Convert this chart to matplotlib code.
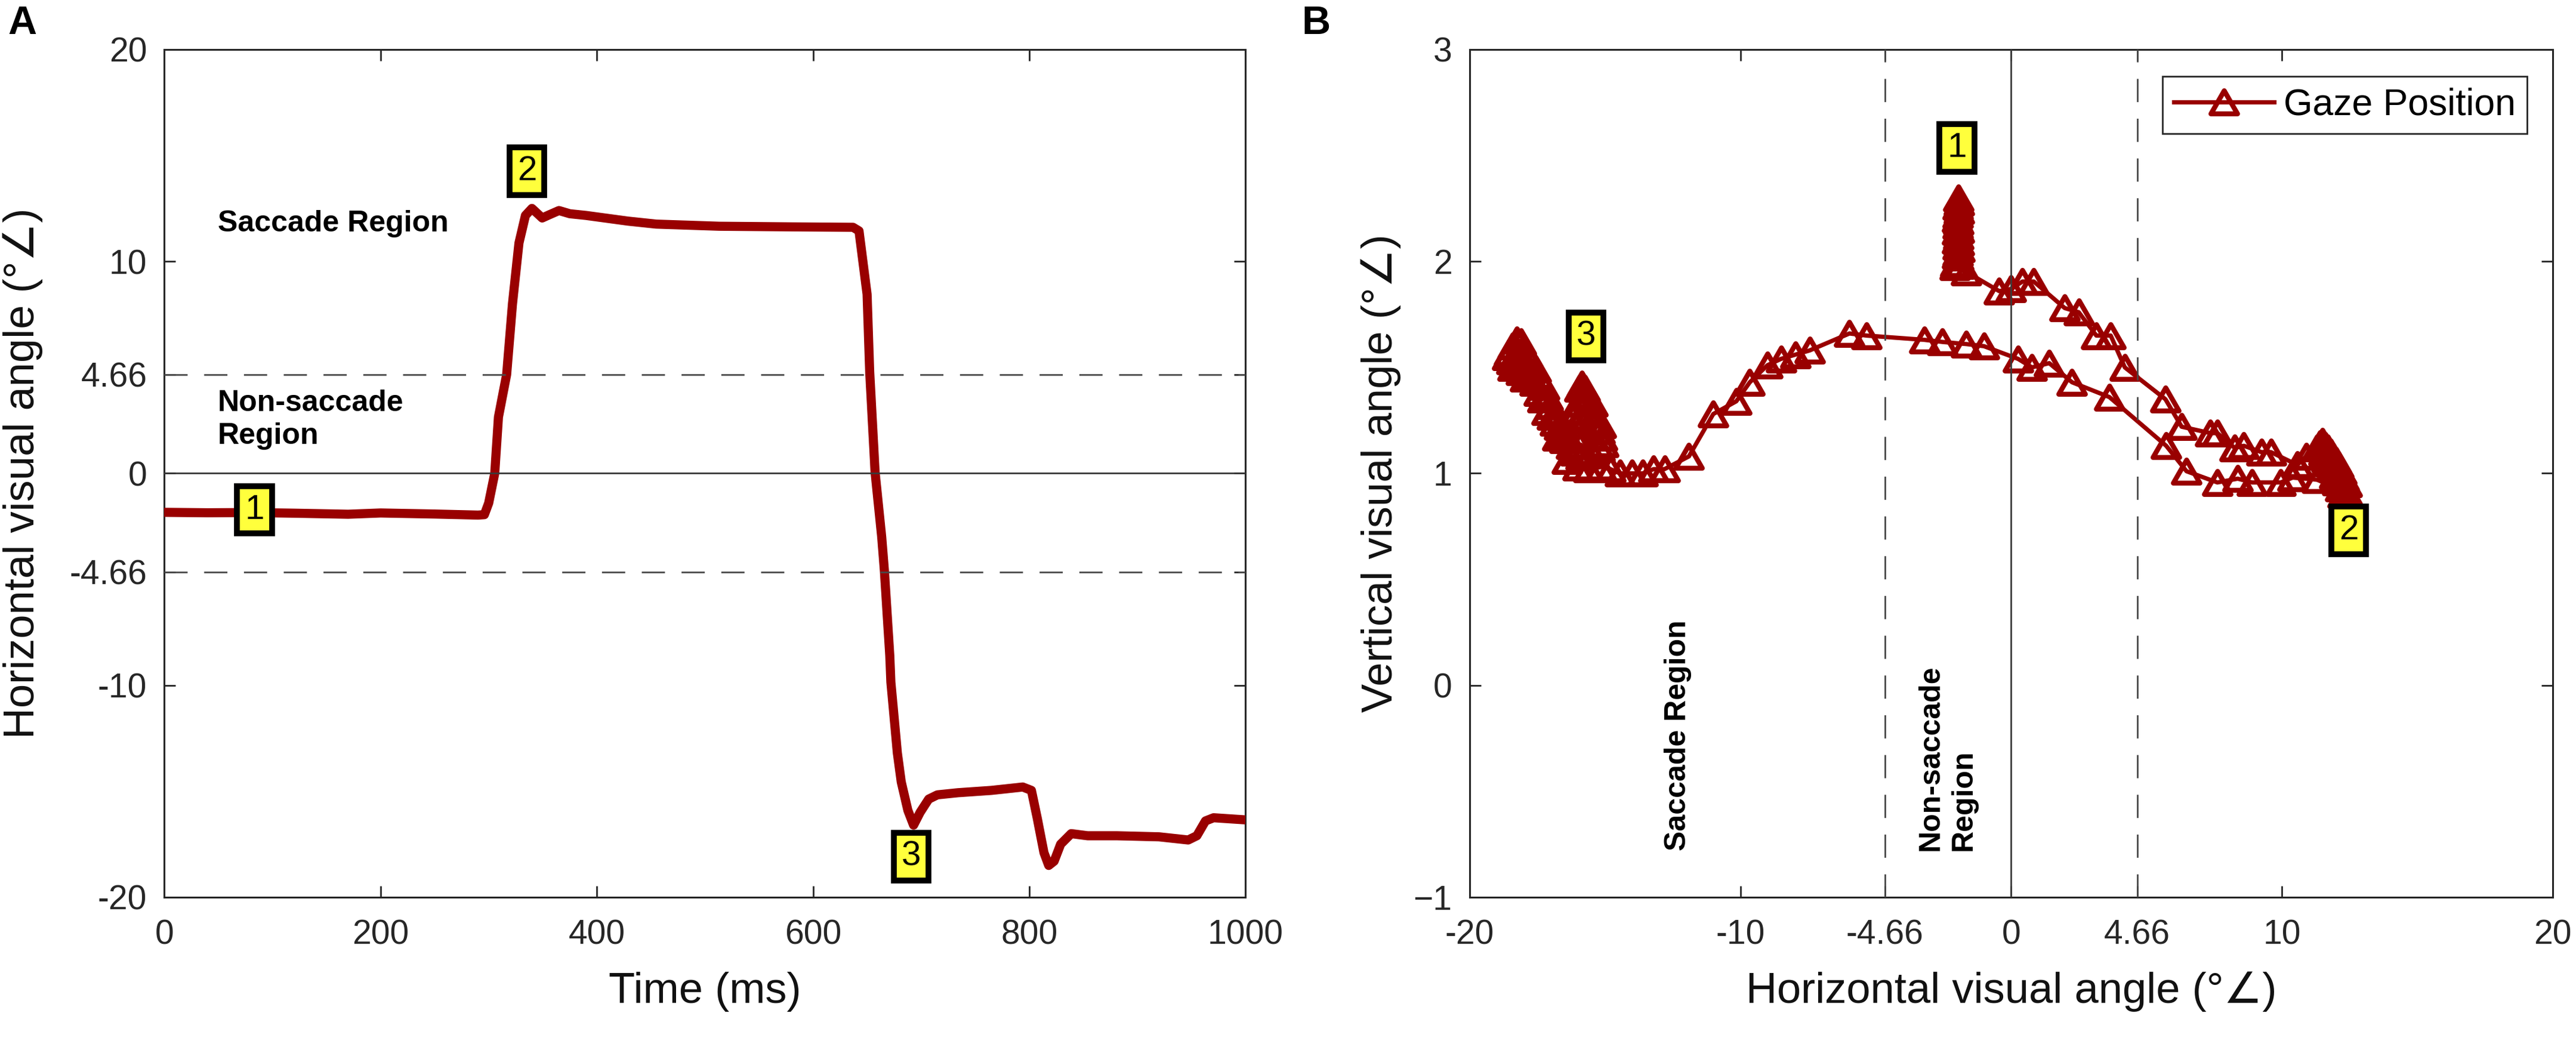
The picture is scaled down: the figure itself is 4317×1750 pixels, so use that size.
import matplotlib
matplotlib.use("Agg")
import matplotlib.pyplot as plt
from matplotlib.path import Path
from matplotlib.lines import Line2D
import numpy as np

plt.rcParams['font.family'] = ['Liberation Sans', 'DejaVu Sans']

# ---- Panel A: horizontal gaze angle over time ----
time_ms = [0, 40, 80, 120, 170, 200, 250, 290, 296, 300,
           305.6, 309, 316.6, 322, 328, 334, 340, 349.5, 356, 365,
           375, 390, 429, 455, 513, 580, 637, 642.5, 650, 652.4,
           657.4, 663.5, 666, 671, 672, 678, 681.6, 687.7, 693, 699,
           707, 715, 734, 765, 794, 802, 807.5, 813.6, 818, 823,
           829, 838.8, 854, 881, 920, 947, 955, 963, 970.5, 1000]
horiz_deg = [-1.84, -1.86, -1.85, -1.88, -1.93, -1.87, -1.92, -1.97, -1.95, -1.40,
             0.00, 2.65, 4.66, 8.00, 10.87, 12.17, 12.50, 12.05, 12.20, 12.40,
             12.25, 12.17, 11.90, 11.76, 11.66, 11.63, 11.61, 11.44, 8.45, 4.79,
             0.05, -3.00, -4.60, -8.60, -9.85, -13.20, -14.56, -15.90, -16.60, -16.00,
             -15.37, -15.17, -15.07, -14.96, -14.80, -14.96, -16.30, -17.90, -18.50, -18.30,
             -17.50, -17.00, -17.10, -17.10, -17.15, -17.30, -17.10, -16.40, -16.25, -16.35]

# ---- Panel B: gaze trajectory, split by phase ----
fix1_x = [-1.95, -1.93, -1.97, -1.92, -1.96, -1.99, -1.94, -1.97, -1.92, -1.98,
          -1.95, -2.00, -1.93, -1.97, -1.91, -1.96, -2.00, -1.94, -2.05, -1.90]
fix1_y = [2.30, 2.28, 2.26, 2.24, 2.22, 2.20, 2.19, 2.17, 2.15, 2.14,
          2.12, 2.10, 2.09, 2.07, 2.06, 2.04, 2.03, 2.02, 1.99, 1.98]

sac1_x = [-2.07, -1.65, -0.44, 0.00, 0.42, 0.84, 1.98, 2.50, 3.15, 3.68, 4.20,
          5.70, 6.30, 7.36, 7.62, 8.26, 8.60, 9.25, 9.60, 10.57, 10.90]
sac1_y = [1.975, 1.95, 1.86, 1.87, 1.905, 1.905, 1.78, 1.76, 1.65, 1.65, 1.50,
          1.35, 1.22, 1.19, 1.19, 1.12, 1.13, 1.10, 1.10, 1.04, 1.08]

fix2_x = [11.30, 11.40, 11.50, 11.60, 11.55, 11.70, 11.80, 11.65, 11.75, 11.90,
          12.00, 11.85, 12.00, 12.10, 11.95, 12.10, 12.20, 12.05, 12.20, 12.30,
          12.15, 12.30, 12.40, 12.25, 12.35, 12.40]
fix2_y = [1.12, 1.14, 1.15, 1.13, 1.10, 1.12, 1.10, 1.07, 1.05, 1.08,
          1.06, 1.03, 1.02, 1.04, 0.99, 0.99, 1.01, 0.96, 0.96, 0.98,
          0.93, 0.93, 0.95, 0.90, 0.89, 0.91]

sac2_x = [11.30, 10.40, 9.96, 8.90, 8.37, 7.62, 6.48, 5.73, 3.63, 2.25,
          1.41, 0.77, 0.26, -1.00, -1.65, -2.53, -3.20, -5.33, -5.97, -7.44,
          -7.97, -8.50, -9.00, -9.65, -10.15, -11.00, -11.90, -12.80, -13.20, -13.60,
          -14.00, -14.45, -14.80, -15.15, -15.60, -16.00, -16.40]
sac2_y = [0.97, 0.98, 0.957, 0.957, 0.975, 0.957, 1.01, 1.13, 1.36, 1.43,
          1.52, 1.50, 1.54, 1.60, 1.61, 1.62, 1.63, 1.65, 1.66, 1.58,
          1.56, 1.54, 1.51, 1.43, 1.34, 1.28, 1.08, 1.02, 1.02, 1.00,
          1.00, 1.00, 1.02, 1.03, 1.02, 1.03, 1.06]

fix3a_x = [-15.90, -15.50, -15.20, -15.05, -15.10, -15.20, -15.15, -15.30, -15.40, -15.50,
           -15.45, -15.60, -15.70, -15.75, -15.86, -15.95, -15.80, -16.00, -16.05, -15.90,
           -16.10, -16.15, -16.00, -16.25, -16.10]
fix3a_y = [1.08, 1.10, 1.12, 1.14, 1.17, 1.20, 1.23, 1.25, 1.28, 1.30,
           1.33, 1.35, 1.37, 1.40, 1.42, 1.40, 1.36, 1.33, 1.29, 1.26,
           1.23, 1.18, 1.16, 1.13, 1.10]

fix3b_x = [-18.25, -18.10, -18.40, -18.55, -18.60, -18.45, -18.30, -18.15, -18.00, -17.85,
           -18.05, -18.25, -18.40, -18.10, -17.90, -17.70, -17.55, -17.75, -17.95, -17.60,
           -17.40, -17.25, -17.45, -17.30, -17.10, -17.00, -17.15, -16.95, -16.80, -16.85,
           -16.70, -16.60, -16.75, -16.50, -16.55, -16.40]
fix3b_y = [1.63, 1.62, 1.60, 1.57, 1.55, 1.53, 1.55, 1.57, 1.58, 1.56,
           1.53, 1.51, 1.50, 1.48, 1.50, 1.52, 1.49, 1.46, 1.45, 1.43,
           1.44, 1.41, 1.38, 1.35, 1.36, 1.32, 1.29, 1.27, 1.28, 1.24,
           1.22, 1.19, 1.17, 1.16, 1.20, 1.18]

gaze_x = fix1_x + sac1_x + fix2_x + sac2_x + fix3a_x + fix3b_x
gaze_y = fix1_y + sac1_y + fix2_y + sac2_y + fix3a_y + fix3b_y

threshold = 4.66

# numbered event labels (x, y)
labels_a = {"1": (83.4, -1.72), "2": (335.5, 14.25), "3": (691, -18.08)}
labels_b = {"1": (-2.0, 2.535), "2": (12.47, 0.731), "3": (-15.7, 1.646)}

a_yticks = [-20, -10, -4.66, 0, 4.66, 10, 20]
a_yticklabels = ["-20", "-10", "-4.66", "0", "4.66", "10", "20"]
b_xticks = [-20, -10, -4.66, 0, 4.66, 10, 20]
b_xticklabels = ["-20", "-10", "-4.66", "0", "4.66", "10", "20"]

red = "#990000"
axcol = "#262626"
deg = "(\u00b0\u2220)"

# slightly flattened open triangle, like the MATLAB '^' marker
tri = Path([(0, 0.87), (-1, -0.87), (1, -0.87), (0, 0.87)],
           [Path.MOVETO, Path.LINETO, Path.LINETO, Path.CLOSEPOLY])

fig = plt.figure(figsize=(21.585, 8.75), dpi=200)
ax1 = fig.add_axes([0.0638, 0.1406, 0.4197, 0.812])
ax2 = fig.add_axes([0.5705, 0.1406, 0.4204, 0.812])


def style_axes(ax):
    ax.tick_params(which="both", direction="in", top=True, right=True,
                   length=7, width=1.0, colors=axcol, labelsize=20.5)
    ax.tick_params(axis="x", pad=13)
    ax.tick_params(axis="y", pad=10.5)
    for sp in ax.spines.values():
        sp.set_color(axcol)
        sp.set_linewidth(1.1)


def tag(ax, s, xy):
    ax.text(xy[0], xy[1], s, ha="center", va="center", fontsize=21, color="black",
            zorder=6, bbox=dict(boxstyle="square,pad=0.22", fc="#ffff3c", ec="black", lw=3.5))


# ---- Panel A ----
ax1.plot(time_ms, horiz_deg, color=red, lw=5.5, solid_joinstyle="round",
         solid_capstyle="round", zorder=3)
ax1.axhline(0, color="#3a3a3a", lw=1.0, zorder=4)
for v in (threshold, -threshold):
    ax1.axhline(v, color="#4a4a4a", lw=1.0, ls=(0, (14, 10)), zorder=4)
ax1.set_xlim(0, 1000)
ax1.set_ylim(-20, 20)
ax1.set_xticks([0, 200, 400, 600, 800, 1000])
ax1.set_yticks(a_yticks)
ax1.set_yticklabels(a_yticklabels)
style_axes(ax1)
ax1.set_xlabel("Time (ms)", fontsize=26, color="#111111")
ax1.set_ylabel("Horizontal visual angle " + deg, fontsize=26, color="#111111")
ax1.xaxis.set_label_coords(0.5, -0.088)
ax1.yaxis.set_label_coords(-0.1307, 0.5)
ax1.yaxis.label.set_va("center")
ax1.text(49.4, 11.77, "Saccade Region", fontsize=18, fontweight="bold",
         ha="left", va="center")
ax1.text(49.4, 2.54, "Non-saccade\nRegion", fontsize=18, fontweight="bold",
         ha="left", va="center", multialignment="left", linespacing=1.25)
for s, xy in labels_a.items():
    tag(ax1, s, xy)

# ---- Panel B ----
ax2.plot(gaze_x, gaze_y, color=red, lw=2.6, marker=tri, ms=16, mfc="none",
         mec=red, mew=3.0, zorder=3)
ax2.axvline(0, color="#3a3a3a", lw=1.0, zorder=4)
for v in (threshold, -threshold):
    ax2.axvline(v, color="#4a4a4a", lw=1.0, ls=(0, (14, 10)), zorder=4)
ax2.set_xlim(-20, 20)
ax2.set_ylim(-1, 3)
ax2.set_xticks(b_xticks)
ax2.set_xticklabels(b_xticklabels)
ax2.set_yticks([-1, 0, 1, 2, 3])
style_axes(ax2)
ax2.set_xlabel("Horizontal visual angle " + deg, fontsize=26, color="#111111")
ax2.set_ylabel("Vertical visual angle " + deg, fontsize=26, color="#111111")
ax2.xaxis.set_label_coords(0.5, -0.088)
ax2.yaxis.set_label_coords(-0.0817, 0.5)
ax2.yaxis.label.set_va("center")
ax2.text(-12.3, -0.78, "Saccade Region", fontsize=18, fontweight="bold",
         rotation=90, ha="center", va="bottom")
ax2.text(-2.36, -0.78, "Non-saccade\nRegion", fontsize=18, fontweight="bold",
         rotation=90, ha="center", va="bottom", multialignment="left", linespacing=1.25)
for s, xy in labels_b.items():
    tag(ax2, s, xy)

handle = Line2D([], [], color=red, lw=2.6, marker=tri, ms=16, mfc="none", mec=red, mew=3.0)
leg = ax2.legend([handle], ["Gaze Position"], loc="upper right",
                 bbox_to_anchor=(0.9763, 0.9683), borderaxespad=0, fontsize=22.5,
                 fancybox=False, edgecolor=axcol, framealpha=1, borderpad=0.3,
                 handlelength=2.7, handletextpad=0.25)
leg.get_frame().set_linewidth(1.0)

fig.text(0.0032, 0.995, "A", fontsize=24, fontweight="bold", ha="left", va="top")
fig.text(0.5053, 0.995, "B", fontsize=24, fontweight="bold", ha="left", va="top")

fig.savefig("out.png", dpi=200)
